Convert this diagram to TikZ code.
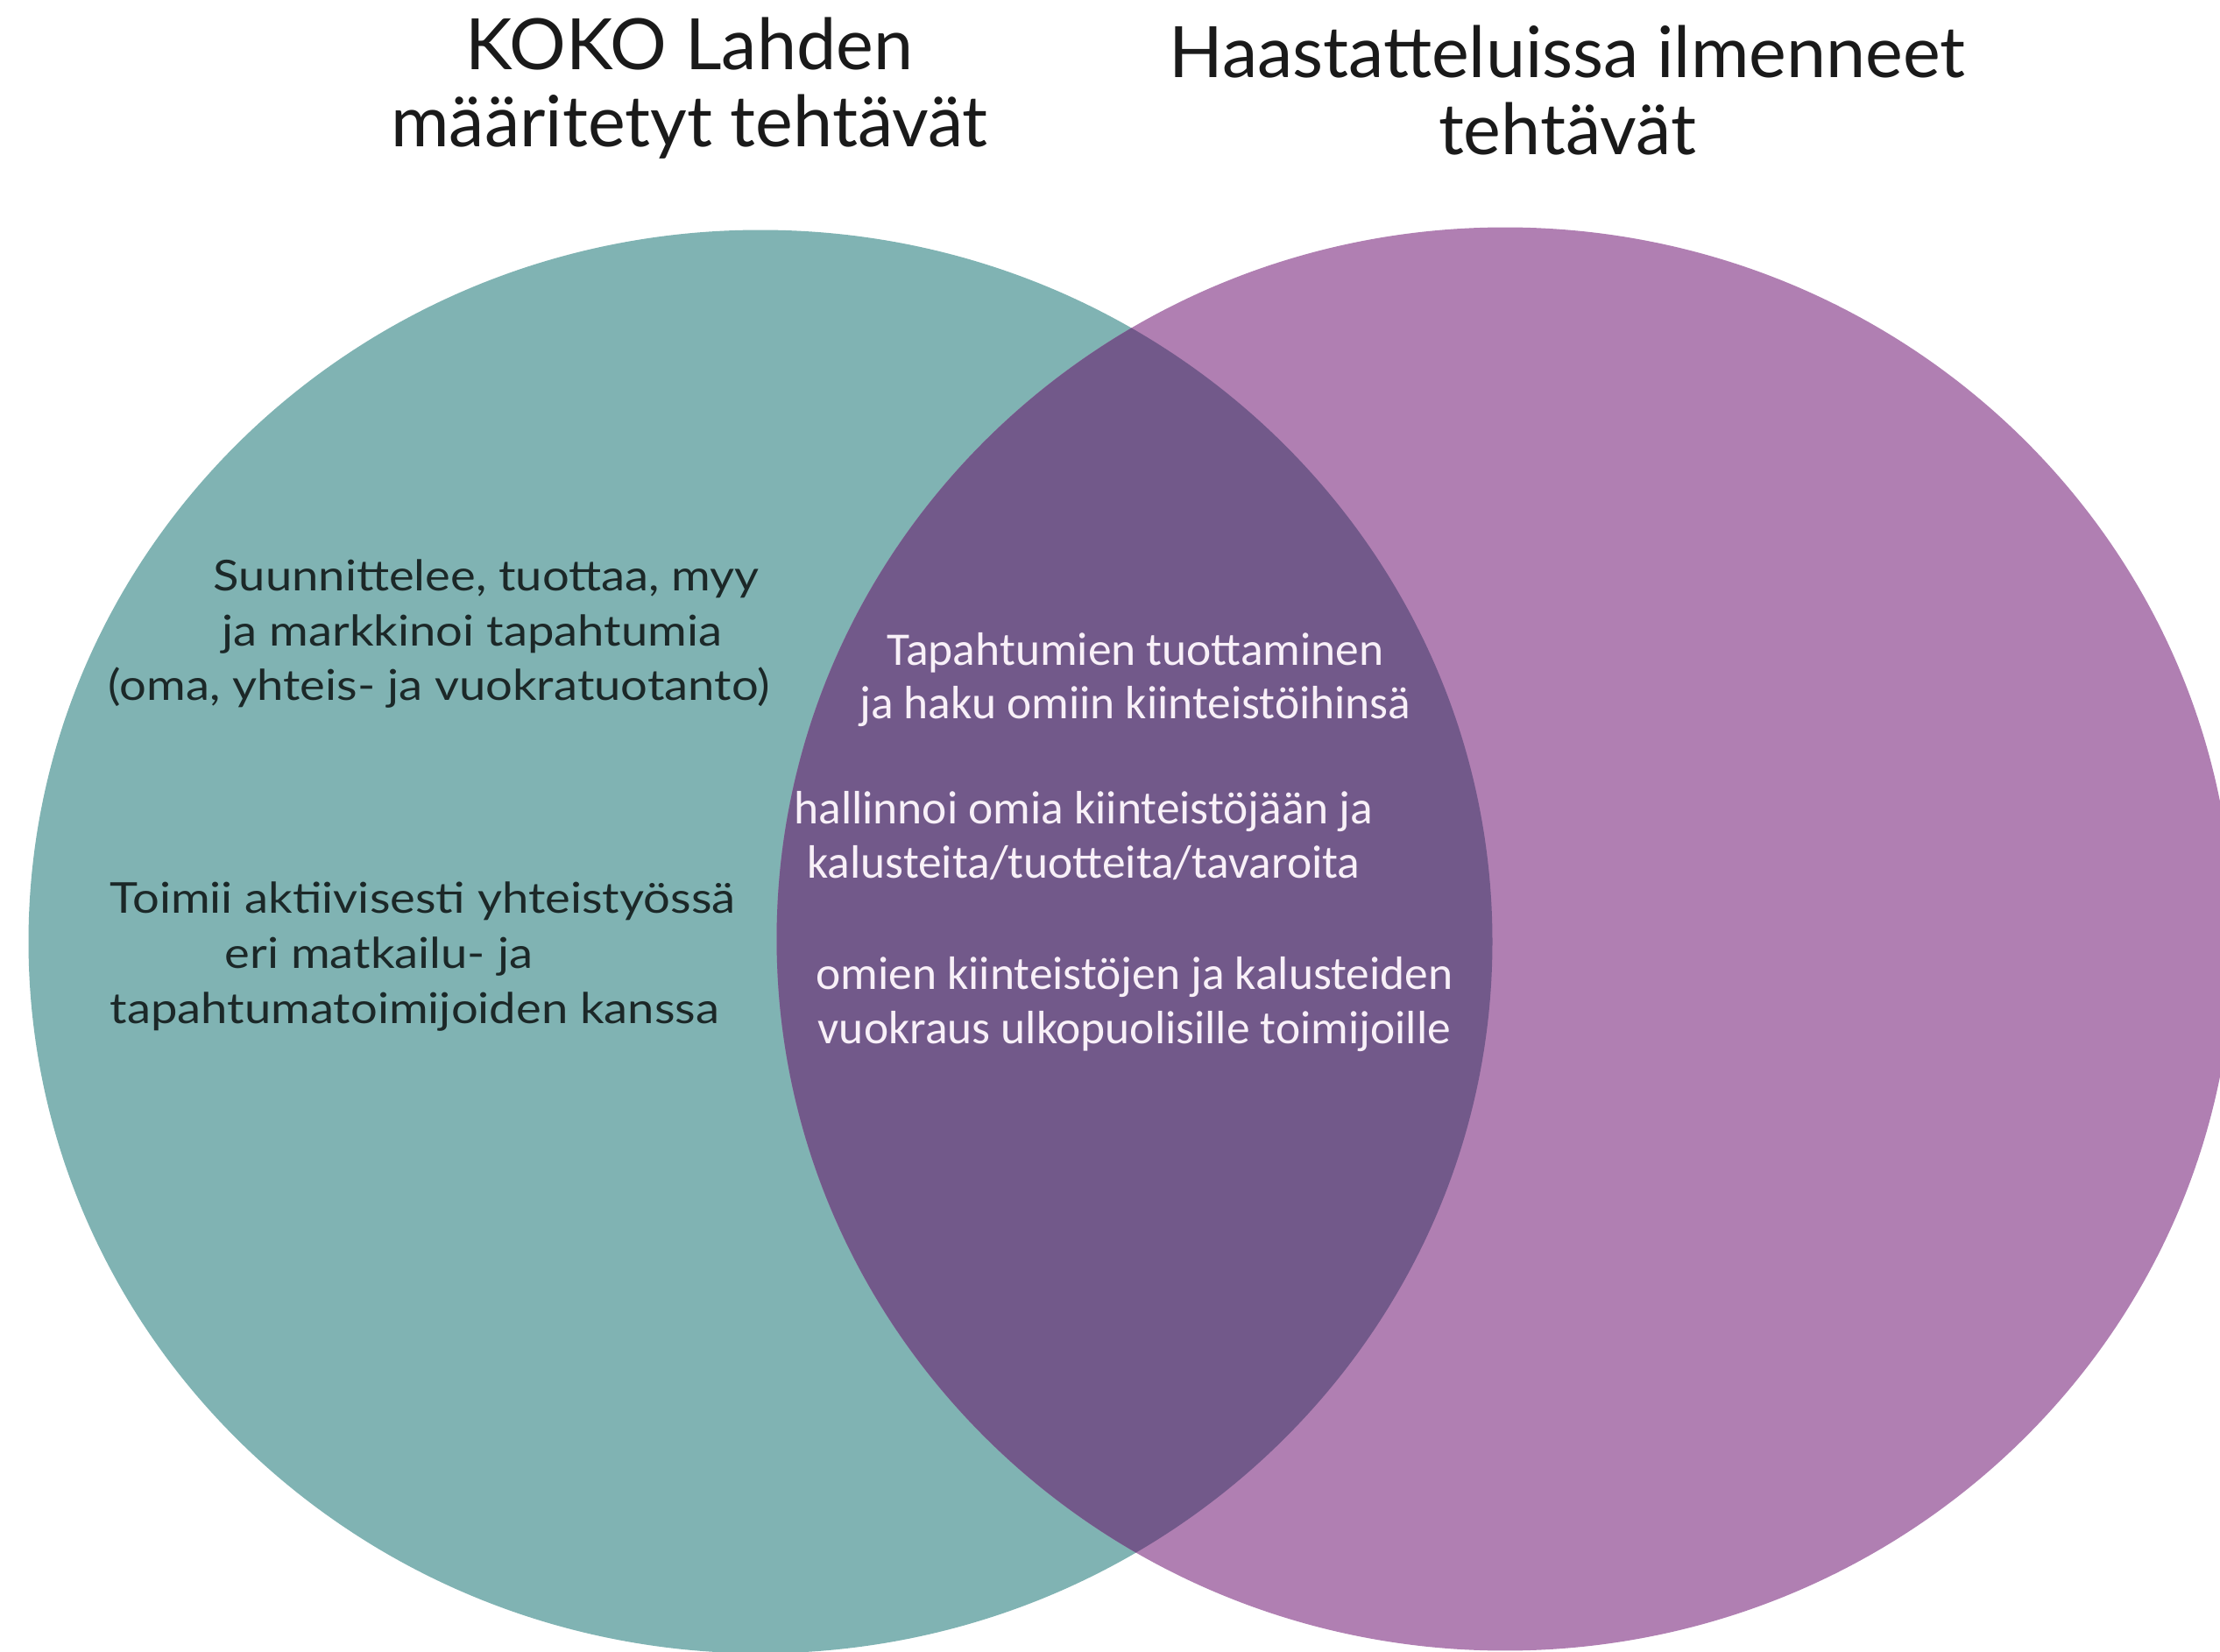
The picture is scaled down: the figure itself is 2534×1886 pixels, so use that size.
\documentclass[tikz,border=0pt]{standalone}
\usepackage{fontspec}
\setmainfont{Lato}
\newfontfamily\levea[FakeStretch=1.12]{Lato}
\newfontfamily\calibri{Carlito}

\definecolor{kokoteal}{HTML}{80B3B3}
\definecolor{haastpurple}{HTML}{B07FB2}
\definecolor{yhteinen}{HTML}{72598A}
\definecolor{titlegrey}{HTML}{1A1A1A}
\definecolor{kokotext}{HTML}{1C2828}
\definecolor{valkea}{HTML}{F8F0F8}

\begin{document}
\begin{tikzpicture}[x=0.01cm,y=-0.01cm,
    otsikko/.style={font=\fontsize{23}{25.3}\selectfont,text=titlegrey,align=center,inner sep=0pt},
    kokoteksti/.style={font=\levea\fontsize{13.8}{17.9}\selectfont,text=kokotext,align=left,inner sep=0pt},
    yhteis/.style={font=\calibri\fontsize{15.2}{17.4}\selectfont,text=valkea,align=center,inner sep=0pt}]
  \useasboundingbox (0,0) rectangle (2534,1886);
  \clip (0,0) rectangle (2534,1886);
  % ympyrat
  \fill[kokoteal] (868,1075) ellipse [x radius=8.35cm, y radius=8.12cm];
  \fill[haastpurple] (1718,1072) ellipse [x radius=8.31cm, y radius=8.12cm];
  \begin{scope}
    \clip (868,1075) ellipse [x radius=8.35cm, y radius=8.12cm];
    \fill[yhteinen] (1718,1072) ellipse [x radius=8.31cm, y radius=8.12cm];
  \end{scope}
  % otsikot
  \node[otsikko,anchor=base] (kokoOts) at (787,168) {KOKO Lahden\\määritetyt tehtävät};
  \node[otsikko,anchor=base] (haastOts) at (1789,177) {Haastatteluissa ilmenneet\\tehtävät};
  % KOKO Lahden tehtavat
  \node[kokoteksti,anchor=base west] (suunnittelee) at (123,800)
    {\hspace*{1.2cm}Suunnittelee, tuottaa, myy\\\hspace*{1.3cm}ja markkinoi tapahtumia\\(oma, yhteis- ja vuokratuotanto)};
  \node[kokoteksti,anchor=base west] (toimii) at (125,1168)
    {Toimii aktiivisesti yhteistyössä\\\hspace*{1.31cm}eri matkailu- ja\\tapahtumatoimijoiden kanssa};
  % yhteiset tehtavat
  \node[yhteis,anchor=base] (tapahtumat) at (1296,821) {Tapahtumien tuottaminen\\ja haku omiin kiinteistöihinsä};
  \node[yhteis,anchor=base] (hallinnoi) at (1237,1002) {hallinnoi omia kiinteistöjään ja\\kalusteita/tuotteita/tavaroita};
  \node[yhteis,anchor=base] (vuokraus) at (1295,1191) {omien kiinteistöjen ja kalusteiden\\vuokraus ulkopuolisille toimijoille};
\end{tikzpicture}
\end{document}
